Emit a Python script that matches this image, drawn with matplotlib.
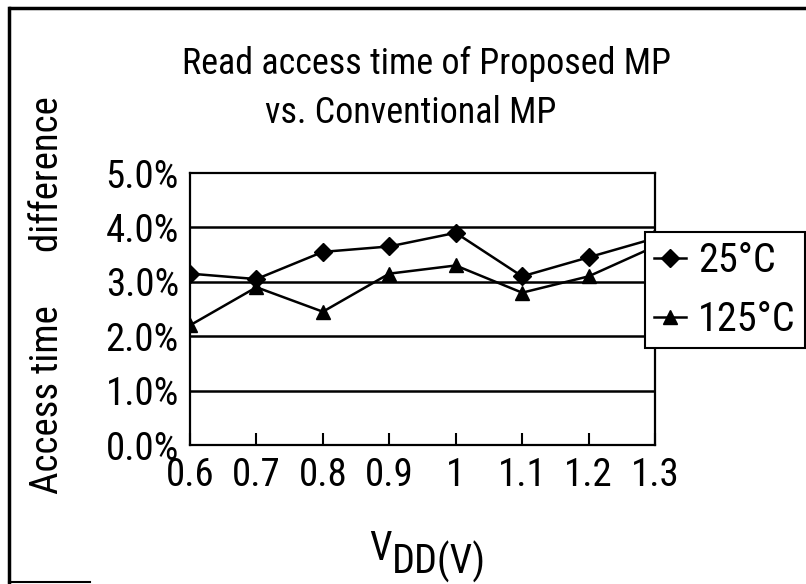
import matplotlib
matplotlib.use("Agg")
import matplotlib.pyplot as plt
from matplotlib.lines import Line2D

vdd = [0.6, 0.7, 0.8, 0.9, 1.0, 1.1, 1.2, 1.3]
xtick_labels = ["0.6", "0.7", "0.8", "0.9", "1", "1.1", "1.2", "1.3"]
t25 = [3.15, 3.05, 3.55, 3.65, 3.9, 3.1, 3.45, 3.8]
t125 = [2.2, 2.9, 2.45, 3.15, 3.3, 2.8, 3.1, 3.65]
yticks = [0.0, 1.0, 2.0, 3.0, 4.0, 5.0]
ytick_labels = ["0.0%", "1.0%", "2.0%", "3.0%", "4.0%", "5.0%"]
series_labels = ["25°C", "125°C"]

plt.rcParams['font.family'] = ['Roboto Condensed', 'DejaVu Sans']

W, H = 806, 584
fig = plt.figure(figsize=(W / 100, H / 100), dpi=100)
L, R, B, T = 190, 655, 445, 173
ax = fig.add_axes([L / W, 1 - B / H, (R - L) / W, (B - T) / H])

ax.set_xlim(0.6, 1.3)
ax.set_ylim(0, 5)
for y in yticks[1:-1]:
    ax.axhline(y, color='black', lw=1.8, zorder=1)
ax.plot(vdd, t25, color='black', lw=1.8, marker='D', markersize=9, zorder=3, label=series_labels[0])
ax.plot(vdd, t125, color='black', lw=1.8, marker='^', markersize=10, zorder=3, label=series_labels[1])

ax.set_xticks(vdd)
ax.set_xticklabels(xtick_labels, fontsize=28)
ax.set_yticks(yticks)
ax.set_yticklabels(ytick_labels, fontsize=28)
ax.tick_params(axis='x', direction='in', length=9, width=1.5, pad=9)
ax.tick_params(axis='y', length=0, pad=8)
for s in ax.spines.values():
    s.set_linewidth(1.6)
    s.set_color('black')

fig.text(426 / W, 1 - 64 / H, "Read access time of Proposed MP", ha='center', va='center', fontsize=26)
fig.text(411 / W, 1 - 113 / H, "vs. Conventional MP", ha='center', va='center', fontsize=26)
fig.text(48 / W, 1 - 295 / H, "Access time      difference", rotation=90,
         ha='center', va='center', fontsize=28)
fig.text(369 / W, 1 - 560 / H, "V", ha='left', va='baseline', fontsize=29)
fig.text(392 / W, 1 - 574 / H, "DD(V)", ha='left', va='baseline', fontsize=29)

leg = ax.legend(loc='upper left', bbox_to_anchor=(645 / W, 1 - 232 / H),
                bbox_transform=fig.transFigure, borderaxespad=0, fontsize=29,
                fancybox=False, framealpha=1, edgecolor='black',
                handlelength=0.8, handletextpad=0.3, borderpad=0.22,
                labelspacing=0.5)
leg.get_frame().set_linewidth(1.5)
leg.set_zorder(5)

fig.add_artist(Line2D([10 / W, 1.0], [1 - 8 / H, 1 - 8 / H], color='black', lw=2.5))
fig.add_artist(Line2D([9 / W, 9 / W], [1 - 8 / H, 1 - 582 / H], color='black', lw=2.5))
fig.add_artist(Line2D([9 / W, 90 / W], [1 - 582 / H, 1 - 582 / H], color='black', lw=1.5))

fig.savefig("out.png", dpi=100)
